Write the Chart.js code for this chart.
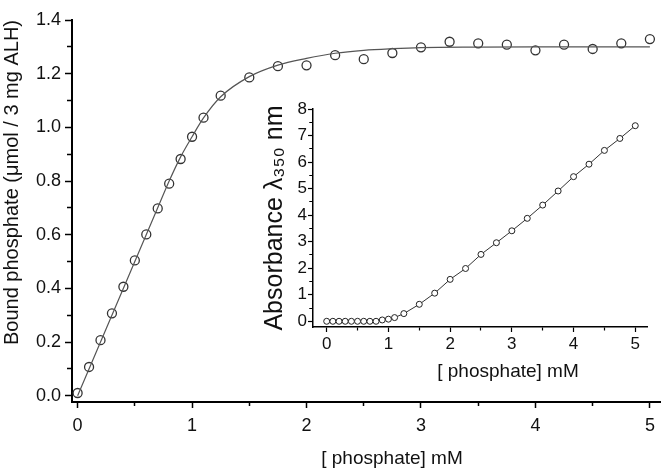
<!DOCTYPE html>
<html><head><meta charset="utf-8">
<script src="https://cdn.jsdelivr.net/npm/chart.js@4.4.1/dist/chart.umd.min.js"></script>
<style>
html,body{margin:0;padding:0;background:#fff;}
#wrap{position:relative;width:666px;height:470px;overflow:hidden;}
#main{position:absolute;left:0;top:0;}
#inset{position:absolute;left:250px;top:95px;}
</style></head><body>
<div id="wrap"><canvas id="main" width="666" height="470"></canvas><canvas id="inset" width="410" height="300"></canvas></div>
<script>
// ---- data ----
const phosphateMM = [0,0.1,0.2,0.3,0.4,0.5,0.6,0.7,0.8,0.9,1.0,1.1,1.25,1.5,1.75,2.0,2.25,2.5,2.75,3.0,3.25,3.5,3.75,4.0,4.25,4.5,4.75,5.0];
const boundPhosphate = [0.010,0.107,0.207,0.307,0.406,0.504,0.601,0.698,0.790,0.882,0.965,1.036,1.118,1.186,1.228,1.231,1.269,1.254,1.277,1.298,1.319,1.313,1.308,1.287,1.308,1.292,1.313,1.329];
const fitX = [0,0.7,0.8,0.9,1.0,1.1,1.25,1.5,1.75,2.0,2.25,2.5,2.75,3.0,3.5,4.0,5.0];
const fitY = [0,0.700,0.800,0.890,0.965,1.035,1.114,1.189,1.232,1.257,1.276,1.287,1.293,1.297,1.299,1.300,1.300];
const absorbance350 = [0,0,0,0,0,0,0,0,0,0.05,0.08,0.14,0.29,0.64,1.06,1.58,1.99,2.52,2.96,3.41,3.88,4.38,4.91,5.45,5.92,6.44,6.89,7.37];

const mainXMajor = [0,1,2,3,4,5];
const mainXMinor = [0.5,1.5,2.5,3.5,4.5];
const mainYMajor = [0,0.2,0.4,0.6,0.8,1.0,1.2,1.4];
const mainYMinor = [0.1,0.3,0.5,0.7,0.9,1.1,1.3];
const insetXMajor = [0,1,2,3,4,5];
const insetXMinor = [0.5,1.5,2.5,3.5,4.5];
const insetYMajor = [0,1,2,3,4,5,6,7,8];
const insetYMinor = [0.5,1.5,2.5,3.5,4.5,5.5,6.5,7.5];

const mainYTitle = 'Bound phosphate (\u03bcmol / 3 mg ALH)';
const mainXTitle = '[ phosphate] mM';
const insetYTitle = 'Absorbance \u03bb\u2083\u2085\u2080 nm';
const insetXTitle = '[ phosphate] mM';

// ---- helpers ----
const FAMILY = '"Liberation Sans", Arial, "DejaVu Sans", sans-serif';
Chart.defaults.font.family = FAMILY;
Chart.defaults.color = '#111';

function pts(xs, ys){ return xs.map((x,i)=>({x:x, y:ys[i]})); }

function tickSetup(major, minor, fmt, side, tl, minorLen, axisW){
  const majSet = new Set(major);
  const minSet = new Set(minor);
  const all = major.concat(minor).sort((a,b)=>a-b);
  const full = tl - axisW/2;
  return {
    afterBuildTicks: s => { s.ticks = all.map(v=>({value:v})); },
    callback: v => majSet.has(v) ? fmt(v) : '',
    dash: ctx => {
      const v = ctx.tick ? ctx.tick.value : null;
      if (!minSet.has(v)) return [];
      if (side === 'left') return [0, full - minorLen, 40];
      return [minorLen, 40];
    }
  };
}

function xTitlePlugin(text, cx, cy, size){
  return {
    id: 'xTitle',
    afterDraw(chart){
      const c = chart.ctx;
      c.save();
      c.font = size + 'px ' + FAMILY;
      c.fillStyle = '#111';
      c.textAlign = 'center';
      c.textBaseline = 'middle';
      c.fillText(text, cx, cy);
      c.restore();
    }
  };
}

// ---- main chart ----
const mx = tickSetup(mainXMajor, mainXMinor, v=>String(v), 'bottom', 6, 3, 2);
const my = tickSetup(mainYMajor, mainYMinor, v=>v.toFixed(1), 'left', 7, 4, 2);

new Chart(document.getElementById('main'), {
  type: 'scatter',
  data: { datasets: [
    { label:'fit', data: pts(fitX, fitY), showLine:true, borderColor:'#555', borderWidth:1.2,
      pointRadius:0, cubicInterpolationMode:'monotone', fill:false },
    { label:'bound', data: pts(phosphateMM, boundPhosphate), showLine:false,
      pointStyle:'circle', pointRadius:4.5, pointBorderWidth:1.3,
      pointBorderColor:'#333', pointBackgroundColor:'rgba(0,0,0,0)' }
  ]},
  options: {
    responsive:false, animation:false, devicePixelRatio:1,
    layout:{ padding:{ left:0, top:20, right:3, bottom:0 } },
    plugins:{ legend:{display:false}, tooltip:{enabled:false} },
    scales:{
      x:{ type:'linear', min:-0.049, max:5.09,
        afterBuildTicks: mx.afterBuildTicks,
        afterFit: s => { s.height = 68; },
        border:{ display:true, color:'#000', width:2 },
        grid:{ drawOnChartArea:false, drawTicks:true, tickLength:6, tickColor:'#000', tickWidth:1.5, tickBorderDash: mx.dash },
        ticks:{ autoSkip:false, maxRotation:0, padding:7, color:'#111', font:{size:18}, callback: mx.callback }
      },
      y:{ type:'linear', min:-0.0235, max:1.4,
        afterBuildTicks: my.afterBuildTicks,
        afterFit: s => { s.width = 72; },
        border:{ display:true, color:'#000', width:2 },
        grid:{ drawOnChartArea:false, drawTicks:true, tickLength:7, tickColor:'#000', tickWidth:1.5, tickBorderDash: my.dash },
        ticks:{ autoSkip:false, padding:4, color:'#111', font:{size:18}, callback: my.callback },
        title:{ display:true, text: mainYTitle, align:'end', padding:0, color:'#111', font:{size:20} }
      }
    }
  },
  plugins:[ xTitlePlugin(mainXTitle, 392, 459, 19) ]
});

// ---- inset chart ----
const ix = tickSetup(insetXMajor, insetXMinor, v=>String(v), 'bottom', 5, 3, 1.5);
const iy = tickSetup(insetYMajor, insetYMinor, v=>String(v), 'left', 5, 3, 1.5);

new Chart(document.getElementById('inset'), {
  type: 'scatter',
  data: { datasets: [
    { label:'abs', data: pts(phosphateMM, absorbance350), showLine:true, borderColor:'#333', borderWidth:1,
      pointStyle:'circle', pointRadius:3, pointBorderWidth:1, pointBorderColor:'#222', pointBackgroundColor:'#fff', tension:0 }
  ]},
  options: {
    responsive:false, animation:false, devicePixelRatio:1,
    layout:{ padding:{ left:10, top:14, right:13, bottom:0 } },
    plugins:{ legend:{display:false}, tooltip:{enabled:false} },
    scales:{
      x:{ type:'linear', min:-0.222, max:5.19,
        afterBuildTicks: ix.afterBuildTicks,
        afterFit: s => { s.height = 68; },
        border:{ display:true, color:'#000', width:1.5 },
        grid:{ drawOnChartArea:false, drawTicks:true, tickLength:5, tickColor:'#000', tickWidth:1.2, tickBorderDash: ix.dash },
        ticks:{ autoSkip:false, maxRotation:0, padding:2, color:'#111', font:{size:17}, callback: ix.callback }
      },
      y:{ type:'linear', min:-0.215, max:8,
        afterBuildTicks: iy.afterBuildTicks,
        afterFit: s => { s.width = 53; },
        border:{ display:true, color:'#000', width:1.5 },
        grid:{ drawOnChartArea:false, drawTicks:true, tickLength:5, tickColor:'#000', tickWidth:1.2, tickBorderDash: iy.dash },
        ticks:{ autoSkip:false, padding:1, color:'#111', font:{size:17}, callback: iy.callback },
        title:{ display:true, text: insetYTitle, align:'center', padding:0, color:'#111', font:{size:25} }
      }
    }
  },
  plugins:[ xTitlePlugin(insetXTitle, 258, 277, 19) ]
});
</script>
</body></html>
